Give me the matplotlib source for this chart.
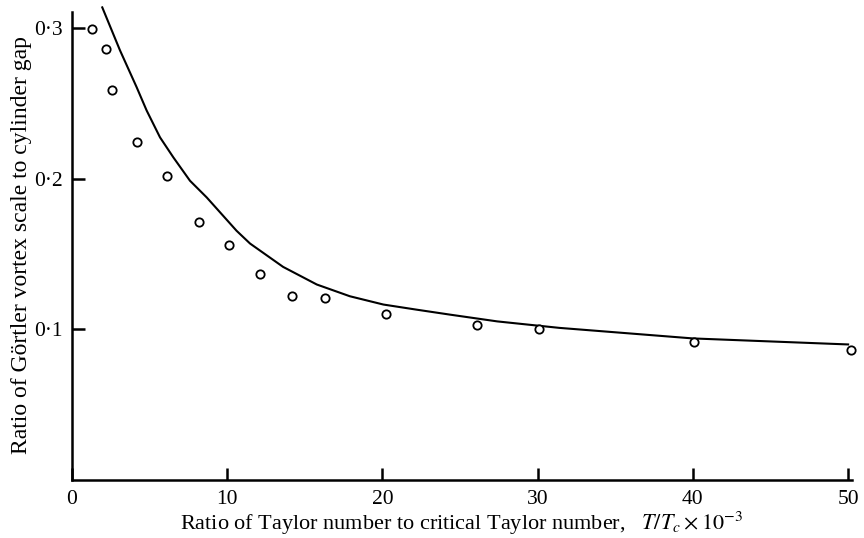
import numpy as np
import matplotlib.pyplot as plt
from matplotlib.ticker import FuncFormatter

plt.rcParams['font.family'] = ['Liberation Serif', 'DejaVu Serif']
plt.rcParams['mathtext.fontset'] = 'stix'

# measured points (open circles)
ratio_meas = np.array([1.3, 2.2, 2.6, 4.2, 6.1, 8.15, 10.1, 12.1, 14.2, 16.3, 20.2, 26.1, 30.1, 40.1, 50.2])
scale_meas = np.array([0.2995, 0.286, 0.2587, 0.2242, 0.202, 0.1715, 0.1558, 0.1369, 0.1225,
                       0.1209, 0.1105, 0.103, 0.100, 0.0913, 0.0865])

# theoretical curve
ratio_curve = np.array([1.95, 3.09, 4.16, 4.81, 5.67, 6.53, 7.6, 8.68, 10.6, 11.47, 13.6, 15.77,
                        17.9, 20.06, 22.2, 24.35, 27.4, 31.4, 40.0, 50.0])
scale_curve = np.array([0.3138, 0.2853, 0.2609, 0.2453, 0.2275, 0.2142, 0.1987, 0.1876, 0.1655,
                        0.157, 0.1415, 0.1298, 0.122, 0.1165, 0.1131, 0.1098, 0.1053, 0.101,
                        0.094, 0.090])

x_ticks = [0, 10, 20, 30, 40, 50]
y_ticks = [0.1, 0.2, 0.3]

fig = plt.figure(figsize=(8.64, 5.38), dpi=100)
ax = fig.add_axes([72 / 864, 1 - 480 / 538, (852 - 72) / 864, 480 / 538])

ax.plot(ratio_curve, scale_curve, color='k', lw=1.5, clip_on=False)
ax.plot(ratio_meas, scale_meas, 'o', mfc='white', mec='k', ms=6, mew=1.3, clip_on=False)

ax.set_xlim(0, 50.25)
ax.set_ylim(0, 0.3187)

for s in ['top', 'right']:
    ax.spines[s].set_visible(False)
for s in ['left', 'bottom']:
    ax.spines[s].set_linewidth(1.8)
ax.spines['left'].set_bounds(0, 0.3107)

ax.set_xticks(x_ticks)
ax.set_yticks(y_ticks)
ax.yaxis.set_major_formatter(FuncFormatter(lambda v, p: ('%.1f' % v).replace('.', '\u00b7')))
ax.tick_params(direction='in', length=9, width=1.8, labelsize=15.5, pad=7)

ax.set_xlabel('Ratio of Taylor number to critical Taylor number,   $T/T_c\\times10^{-3}$',
              fontsize=16, va='baseline')
ax.xaxis.set_label_coords(0.5, -50 / 480)
ax.set_ylabel('Ratio of G\u00f6rtler vortex scale to cylinder gap', fontsize=17, va='center')
ax.yaxis.set_label_coords(-50 / 780, 0.49)

fig.savefig('out.png', dpi=100)
